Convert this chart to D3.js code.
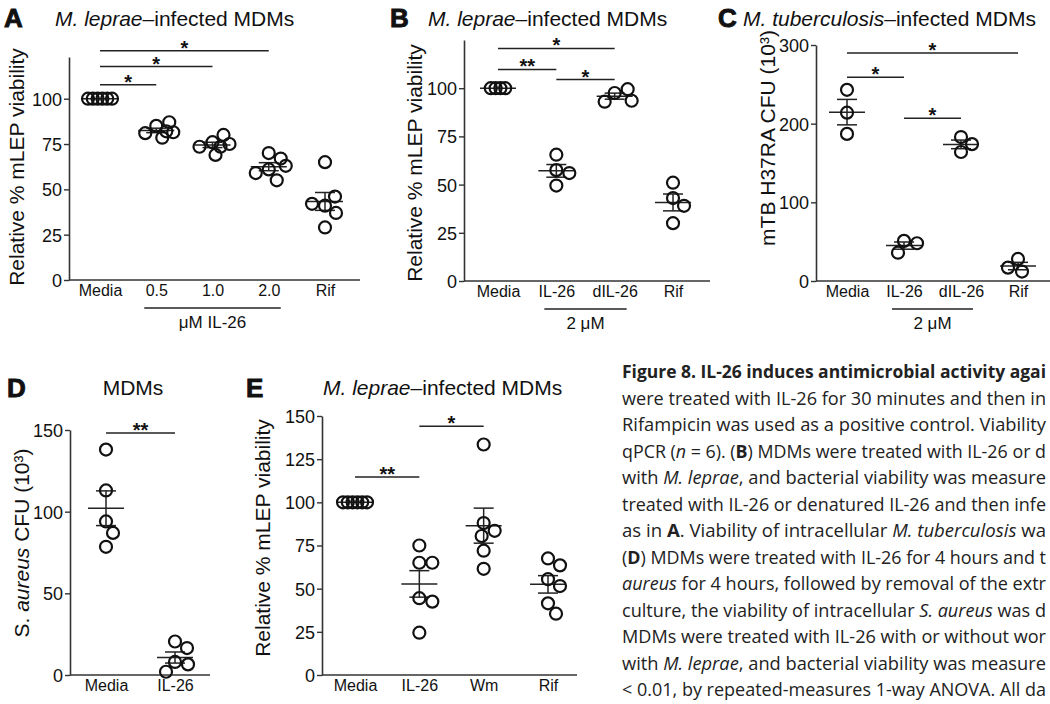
<!DOCTYPE html>
<html>
<head>
<meta charset="utf-8">
<script src="https://cdn.jsdelivr.net/npm/d3@7/dist/d3.min.js"></script>
<style>
body { margin: 0; background: #fff; }
svg text { font-family: "Liberation Sans", Arial, sans-serif; fill: #111; }
.caption text { font-family: "Open Sans", Lato, sans-serif; fill: #222; }
</style>
</head>
<body>
<div id="chart-area"></div>
<script>
var width = 1050;
var height = 704;

// ---- data ----
// A: M. leprae, IL-26 dose
var catsA = ["Media", "0.5", "1.0", "2.0", "Rif"];
var valsA = [
    [100, 100, 100, 100, 100, 100],
    [85, 87, 81, 78.5, 81.5, 82],
    [76, 80, 73.5, 69, 75, 73.5],
    [70, 67, 61, 55, 59, 63],
    [65, 41, 46, 42, 37, 29]
];
var ticksA = [0, 25, 50, 75, 100];

// B: M. leprae, IL-26 vs denatured
var catsB = ["Media", "IL-26", "dIL-26", "Rif"];
var valsB = [
    [100, 100, 100, 100],
    [65.5, 57.5, 56, 49.5],
    [97.5, 99.5, 93, 93.5],
    [51, 43, 39, 30]
];
var ticksB = [0, 25, 50, 75, 100];

// C: M. tuberculosis CFU (10^3)
var catsC = ["Media", "IL-26", "dIL-26", "Rif"];
var valsC = [
    [243, 214, 187],
    [51, 48, 36],
    [183, 174, 164],
    [28, 12, 17]
];
var ticksC = [0, 100, 200, 300];

// D: S. aureus CFU (10^3)
var catsD = ["Media", "IL-26"];
var valsD = [
    [138, 113, 94, 87, 78.5],
    [20.5, 16.5, 8, 6.5, 2]
];
var ticksD = [0, 50, 100, 150];

// E: M. leprae with wortmannin
var catsE = ["Media", "IL-26", "Wm", "Rif"];
var valsE = [
    [100, 100, 100, 100, 100, 100],
    [75, 65, 65, 44.5, 42.5, 24.5],
    [133.5, 88, 83.5, 80.5, 72, 61.5],
    [67.5, 63.5, 55.5, 51.5, 41.5, 35.5]
];
var ticksE = [0, 25, 50, 75, 100, 125, 150];

// significance bars: [from, to, height (axis units), label]
var sigA = [["Media", "2.0", 126.5, "*"], ["Media", "1.0", 117.7, "*"], ["Media", "0.5", 107.7, "*"]];
var sigB = [["Media", "dIL-26", 120.6, "*"], ["Media", "IL-26", 109.7, "**"], ["IL-26", "dIL-26", 104.5, "*"]];
var sigC = [["Media", "Rif", 289.7, "*"], ["Media", "IL-26", 259, "*"], ["IL-26", "dIL-26", 207, "*"]];
var sigD = [["Media", "IL-26", 148.2, "**"]];
var sigE = [["Media", "IL-26", 114.6, "**"], ["IL-26", "Wm", 144, "*"]];

var captionLines = [
    [["Figure 8. IL-26 induces antimicrobial activity agai", "b"]],
    [["were treated with IL-26 for 30 minutes and then in", ""]],
    [["Rifampicin was used as a positive control. Viability", ""]],
    [["qPCR (", ""], ["n", "i"], [" = 6). (", ""], ["B", "b"], [") MDMs were treated with IL-26 or d", ""]],
    [["with ", ""], ["M. leprae", "i"], [", and bacterial viability was measure", ""]],
    [["treated with IL-26 or denatured IL-26 and then infe", ""]],
    [["as in ", ""], ["A", "b"], [". Viability of intracellular ", ""], ["M. tuberculosis", "i"], [" wa", ""]],
    [["(", ""], ["D", "b"], [") MDMs were treated with IL-26 for 4 hours and t", ""]],
    [["aureus", "i"], [" for 4 hours, followed by removal of the extr", ""]],
    [["culture, the viability of intracellular ", ""], ["S. aureus", "i"], [" was d", ""]],
    [["MDMs were treated with IL-26 with or without wor", ""]],
    [["with ", ""], ["M. leprae", "i"], [", and bacterial viability was measure", ""]],
    [["< 0.01, by repeated-measures 1-way ANOVA. All da", ""]]
];

var svg = d3.select("#chart-area").append("svg")
    .attr("width", width)
    .attr("height", height);

function sem(a) { return d3.deviation(a) / Math.sqrt(a.length); }

//spread points of a group sideways (scatter-dot style)
function spread(vals, y) {
    var n = vals.length;
    if (d3.deviation(vals) === 0) {
        // identical values sit in one overlapping row
        return vals.map(function(v, i) { return (i - (n - 1) / 2) * 4.8; });
    }
    var placed = [];
    var cands = d3.range(-17, 17.5, 1).sort(function(a, b) {
        return Math.abs(a) - Math.abs(b) || b - a;
    });
    return vals.map(function(v) {
        var py = y(v);
        var best = 0, bestD = -1;
        for (var k = 0; k < cands.length; k++) {
            var off = cands[k];
            var dmin = d3.min(placed, function(p) { return Math.hypot(p[0] - off, p[1] - py); });
            if (dmin === undefined) dmin = 99;
            if (dmin >= 13) { best = off; bestD = dmin; break; }
            if (dmin > bestD) { bestD = dmin; best = off; }
        }
        placed.push([best, py]);
        return best;
    });
}

function panel(p) {
    var g = svg.append("g");

    var y = d3.scaleLinear().domain([0, p.yTop]).range([p.yBase, p.yTopPx]);
    var x = d3.scalePoint().domain(p.cats).range(p.catRange);

    // y axis
    var ya = g.append("g")
        .attr("transform", "translate(" + p.axisX + ",0)")
        .call(d3.axisLeft(y).tickValues(p.ticks).tickSize(5).tickSizeOuter(0).tickPadding(2));
    ya.select(".domain").attr("stroke", "#333").attr("stroke-width", 1.6);
    ya.selectAll(".tick line").attr("stroke", "#333").attr("stroke-width", 1.4);
    ya.selectAll(".tick text")
        .style("font-family", "Liberation Sans, Arial, sans-serif")
        .style("font-size", "18px").attr("fill", "#111").attr("dy", "0.36em");

    // x axis line
    g.append("line")
        .attr("x1", p.axisX).attr("x2", p.axisEnd)
        .attr("y1", p.yBase).attr("y2", p.yBase)
        .attr("stroke", "#333").attr("stroke-width", 1.6);

    var xa = g.append("g")
        .attr("transform", "translate(0," + p.yBase + ")")
        .call(d3.axisBottom(x).tickSize(0).tickPadding(5));
    xa.select(".domain").remove();
    xa.selectAll(".tick text")
        .style("font-family", "Liberation Sans, Arial, sans-serif")
        .style("font-size", "16px").attr("fill", "#111");

    // mean and SEM
    p.vals.forEach(function(vals, i) {
        var cx = x(p.cats[i]);
        var m = d3.mean(vals), s = sem(vals);
        var eg = g.append("g").attr("stroke", "#222").attr("stroke-width", 1.5);
        eg.append("line").attr("x1", cx - 18).attr("x2", cx + 18).attr("y1", y(m)).attr("y2", y(m));
        if (s > 0) {
            eg.append("line").attr("x1", cx).attr("x2", cx).attr("y1", y(m - s)).attr("y2", y(m + s));
            eg.append("line").attr("x1", cx - 10).attr("x2", cx + 10).attr("y1", y(m - s)).attr("y2", y(m - s));
            eg.append("line").attr("x1", cx - 10).attr("x2", cx + 10).attr("y1", y(m + s)).attr("y2", y(m + s));
        }
    });

    // points
    p.vals.forEach(function(vals, i) {
        var cx = x(p.cats[i]);
        var offs = spread(vals, y);
        g.selectAll(null)
            .data(vals)
            .enter()
            .append("circle")
            .attr("cx", function(d, j) { return cx + offs[j]; })
            .attr("cy", function(d) { return y(d); })
            .attr("r", 6)
            .attr("fill", "none")
            .attr("stroke", "#111")
            .attr("stroke-width", 2.2);
    });

    // significance bars
    p.sig.forEach(function(s) {
        var x1 = x(s[0]), x2 = x(s[1]), yy = y(s[2]);
        g.append("line").attr("x1", x1).attr("x2", x2).attr("y1", yy).attr("y2", yy)
            .attr("stroke", "#222").attr("stroke-width", 1.5);
        g.append("text").text(s[3])
            .attr("x", (x1 + x2) / 2).attr("y", yy + 4)
            .attr("text-anchor", "middle")
            .style("font-size", "20px").style("font-weight", "bold");
    });

    // bracket under x labels
    if (p.bracket) {
        var b = p.bracket;
        g.append("line")
            .attr("x1", x(b[0]) - 12).attr("x2", x(b[1]) + 12)
            .attr("y1", p.yBase + 28).attr("y2", p.yBase + 28)
            .attr("stroke", "#222").attr("stroke-width", 1.5);
        g.append("text").text(b[2])
            .attr("x", (x(b[0]) + x(b[1])) / 2).attr("y", p.yBase + 48)
            .attr("text-anchor", "middle").style("font-size", "17px");
    }

    // y title
    var yt = g.append("text")
        .attr("transform", "translate(" + p.yTitle[0] + "," + p.yTitle[1] + ") rotate(-90)")
        .attr("text-anchor", "middle")
        .style("font-size", p.yTitleSize + "px");
    p.yTitleParts.forEach(function(t) {
        yt.append("tspan").text(t[0]).style("font-style", t[1] ? "italic" : "normal");
    });

    // panel letter + title
    g.append("text").text(p.letter)
        .attr("x", p.letterPos[0]).attr("y", p.letterPos[1])
        .attr("stroke", "#111").attr("stroke-width", 0.9)
        .style("font-size", "26px").style("font-weight", "bold");
    var tt = g.append("text")
        .attr("x", p.titlePos[0]).attr("y", p.titlePos[1])
        .attr("text-anchor", p.titleAnchor || "start")
        .style("font-size", "21px");
    p.titleParts.forEach(function(t) {
        tt.append("tspan").text(t[0]).style("font-style", t[1] ? "italic" : "normal");
    });
}

panel({
    cats: catsA, vals: valsA, ticks: ticksA, sig: sigA,
    yTop: 123, yBase: 280, yTopPx: 57, axisX: 69, axisEnd: 360, catRange: [100, 325],
    bracket: ["0.5", "2.0", "\u03bcM IL-26"],
    yTitle: [24, 167], yTitleSize: 21, yTitleParts: [["Relative % mLEP viability", false]],
    letter: "A", letterPos: [4, 27], titlePos: [55, 26],
    titleParts: [["M. leprae", true], ["\u2013infected MDMs", false]]
});

panel({
    cats: catsB, vals: valsB, ticks: ticksB, sig: sigB,
    yTop: 125, yBase: 281, yTopPx: 40, axisX: 464, axisEnd: 710, catRange: [498, 673],
    bracket: ["IL-26", "dIL-26", "2 \u03bcM"],
    yTitle: [422, 163], yTitleSize: 21, yTitleParts: [["Relative % mLEP viability", false]],
    letter: "B", letterPos: [390, 27], titlePos: [428, 26],
    titleParts: [["M. leprae", true], ["\u2013infected MDMs", false]]
});

panel({
    cats: catsC, vals: valsC, ticks: ticksC, sig: sigC,
    yTop: 300, yBase: 281, yTopPx: 45, axisX: 816, axisEnd: 1050, catRange: [847, 1018],
    bracket: ["IL-26", "dIL-26", "2 \u03bcM"],
    yTitle: [775, 138], yTitleSize: 21, yTitleParts: [["mTB H37RA CFU (10\u00b3)", false]],
    letter: "C", letterPos: [718, 27], titlePos: [743, 26],
    titleParts: [["M. tuberculosis", true], ["\u2013infected MDMs", false]]
});

panel({
    cats: catsD, vals: valsD, ticks: ticksD, sig: sigD,
    yTop: 150, yBase: 675, yTopPx: 430, axisX: 70, axisEnd: 210, catRange: [106, 175],
    yTitle: [29, 543], yTitleSize: 21, yTitleParts: [["S. ", false], ["aureus", true], [" CFU (10\u00b3)", false]],
    letter: "D", letterPos: [7, 397], titlePos: [133, 395], titleAnchor: "middle",
    titleParts: [["MDMs", false]]
});

panel({
    cats: catsE, vals: valsE, ticks: ticksE, sig: sigE,
    yTop: 150, yBase: 675, yTopPx: 416, axisX: 322, axisEnd: 577, catRange: [355, 548],
    yTitle: [270, 538], yTitleSize: 21, yTitleParts: [["Relative % mLEP viability", false]],
    letter: "E", letterPos: [246, 397], titlePos: [323, 395],
    titleParts: [["M. leprae", true], ["\u2013infected MDMs", false]]
});

// caption text on the right, each line stretched to end at the page edge
var cap = svg.append("g").attr("class", "caption");
captionLines.forEach(function(line, i) {
    var t = cap.append("text")
        .attr("x", 622)
        .attr("y", 378 + i * 26.5)
        .attr("textLength", 424)
        .attr("lengthAdjust", "spacingAndGlyphs")
        .style("font-size", "17.5px");
    line.forEach(function(part) {
        t.append("tspan").text(part[0])
            .style("font-weight", part[1] === "b" || i === 0 ? "bold" : "normal")
            .style("font-style", part[1] === "i" ? "italic" : "normal");
    });
});
</script>
</body>
</html>
